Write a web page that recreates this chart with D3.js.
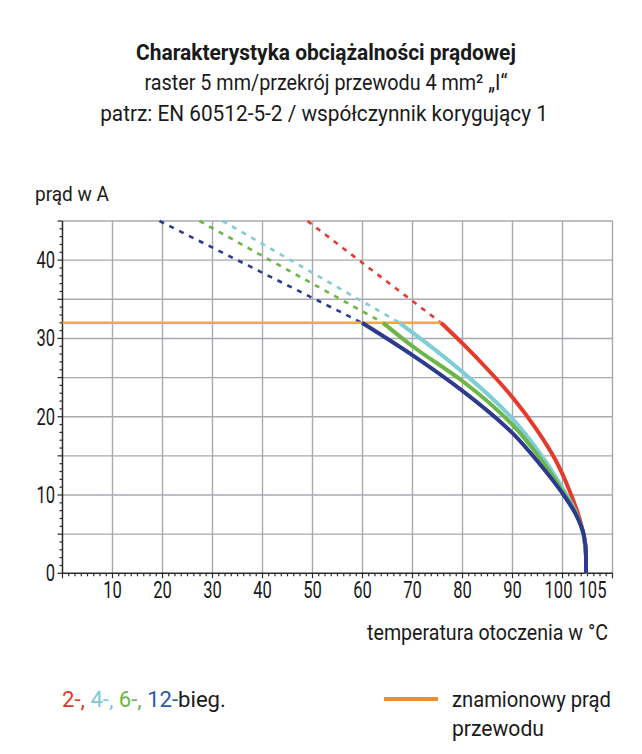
<!DOCTYPE html>
<html>
<head>
<meta charset="utf-8">
<script src="https://cdn.jsdelivr.net/npm/d3@7"></script>
<style>
  html, body { margin: 0; padding: 0; background: #fff; }
  svg { display: block; }
  text { font-family: Roboto, "Noto Sans", sans-serif; fill: #1a1a1a; }
</style>
</head>
<body>
<svg id="chart" width="642" height="754"></svg>
<script>
// ---------- data ----------
const titleLines = [
  "Charakterystyka obciążalności prądowej",
  "raster 5 mm/przekrój przewodu 4 mm² „I“",
  "patrz: EN 60512-5-2 / współczynnik korygujący 1"
];
const yAxisTitle = "prąd w A";
const xAxisTitle = "temperatura otoczenia w °C";
const xTickValues = [10, 20, 30, 40, 50, 60, 70, 80, 90, 100, 105];
const yTickValues = [0, 10, 20, 30, 40];
const ratedCurrent = 32;          // znamionowy prąd przewodu (A)
const ratedEndTemp = 75.7;        // where the rated line meets the 2-pole curve

const seriesNames = ["2-", "4-", "6-", "12-"];
// solid derating curves [temperature °C, current A]
const solid2  = [[75.7,32],[80.1,29.3],[85.1,26],[90.1,22.4],[94.9,18.3],[98.5,14.6],[101.5,10.4],[103.4,7],[104.4,4.2],[104.7,2],[104.7,0]];
const solid4  = [[67.4,32],[72.8,29.4],[80.2,25.6],[90.2,19.6],[95.4,15.4],[99.8,11.1],[102.6,7.9],[104.2,4.8],[104.7,2.2],[104.7,0]];
const solid6  = [[64.1,32],[70,29],[80.1,24.5],[90.1,18.9],[95.4,14.8],[99.9,10.6],[102.7,7.6],[104.3,4.8],[104.7,2.2],[104.7,0]];
const solid12 = [[59.9,32],[69.9,27.9],[80,23.3],[90,17.9],[95.4,14.0],[99.9,10.3],[102.7,7.5],[104.3,4.8],[104.7,2.2],[104.7,0]];
// dashed extensions above the rated current
const dash2  = [[49,45],[75.7,32]];
const dash4  = [[32,45],[67.4,32]];
const dash6  = [[27.4,45],[64.1,32]];
const dash12 = [[19.4,45],[59.9,32]];

const colors = ["#e53b2c", "#7fcdd5", "#6bb646", "#2d3a8e"];
const legendColors = ["#e0382c", "#7ccad4", "#6bb646", "#2a5ba8"];
const orange = "#f7a640";

// ---------- layout ----------
const svg = d3.select("#chart");
const x = d3.scaleLinear().domain([0, 110]).range([62.5, 612.5]);
const y = d3.scaleLinear().domain([0, 45]).range([573.3, 221]);

function fitText(sel, width) {
  sel.each(function() {
    const t = d3.select(this);
    const len = this.getComputedTextLength();
    const tr = t.attr("data-tr") || "";
    t.attr("transform", tr + ` scale(${width/len},1)`);
  });
}
function addText(str, px, py, size, anchor, width, weight) {
  const t = svg.append("text")
    .attr("font-size", size)
    .attr("text-anchor", anchor)
    .attr("font-weight", weight || 400)
    .attr("data-tr", `translate(${px},${py})`)
    .text(str);
  fitText(t, width);
  return t;
}

// titles
addText(titleLines[0], 326, 60, 22, "middle", 380, 700);
addText(titleLines[1], 326, 90, 22, "middle", 363, 400);
addText(titleLines[2], 324, 121, 22, "middle", 448, 400);

// grid
const grid = svg.append("g").attr("stroke", "#a9a9b0").attr("stroke-width", 1.4);
grid.selectAll("line.v").data(d3.range(10, 111, 10)).join("line")
  .attr("x1", d => x(d)).attr("x2", d => x(d)).attr("y1", y(0)).attr("y2", y(45));
grid.selectAll("line.h").data(d3.range(5, 46, 5)).join("line")
  .attr("x1", x(0)).attr("x2", x(110)).attr("y1", d => y(d)).attr("y2", d => y(d));

// axes
const axG = svg.append("g").attr("stroke", "#2a2a2a");
axG.append("line").attr("x1", x(0)).attr("x2", x(0)).attr("y1", y(0)).attr("y2", y(45)).attr("stroke-width", 1.5);
axG.append("line").attr("x1", x(0)).attr("x2", x(110)).attr("y1", y(0)).attr("y2", y(0)).attr("stroke-width", 1.5);
// y minor ticks every 1 A
axG.selectAll("line.ym").data(d3.range(0, 46, 1)).join("line")
  .attr("x1", d => x(0) - (d % 5 === 0 ? 5 : 3)).attr("x2", x(0))
  .attr("y1", d => y(d)).attr("y2", d => y(d)).attr("stroke-width", 1.2);
// x minor ticks
axG.selectAll("line.xm").data(d3.range(0, 110.01, 1.25)).join("line")
  .attr("x1", d => x(d)).attr("x2", d => x(d))
  .attr("y1", y(0)).attr("y2", d => y(0) + (d % 10 === 0 ? 5 : 3)).attr("stroke-width", 1.2);

// tick labels
const tickScale = 0.72;
const labelNudge = v => (v === 100 ? -4 : v === 105 ? 5 : 0);
svg.append("g").selectAll("text").data(xTickValues).join("text")
  .attr("font-size", 23).attr("text-anchor", "middle")
  .attr("transform", d => `translate(${x(d) + labelNudge(d)},598) scale(${tickScale},1)`)
  .text(d => d);
svg.append("g").selectAll("text").data(yTickValues).join("text")
  .attr("font-size", 23).attr("text-anchor", "end")
  .attr("transform", d => `translate(55,${y(d) + 8}) scale(${tickScale},1)`)
  .text(d => d);

// axis titles
addText(yAxisTitle, 35, 201, 21, "start", 74, 400);
addText(xAxisTitle, 608, 640, 22, "end", 241, 400);

// curves
const line = d3.line().x(d => x(d[0])).y(d => y(d[1]));
const curve = d3.line().x(d => x(d[0])).y(d => y(d[1])).curve(d3.curveMonotoneY);
const dashes = [dash2, dash4, dash6, dash12];
const solids = [solid2, solid4, solid6, solid12];

svg.append("g").selectAll("path").data(dashes).join("path")
  .attr("d", line).attr("fill", "none")
  .attr("stroke", (d, i) => colors[i]).attr("stroke-width", 2.6)
  .attr("stroke-dasharray", "5,6");

svg.append("line")
  .attr("x1", x(0)).attr("x2", x(ratedEndTemp))
  .attr("y1", y(ratedCurrent)).attr("y2", y(ratedCurrent))
  .attr("stroke", orange).attr("stroke-width", 2.6);

svg.append("g").selectAll("path").data(solids).join("path")
  .attr("d", curve).attr("fill", "none")
  .attr("stroke", (d, i) => colors[i]).attr("stroke-width", 4)
  .attr("stroke-linecap", "butt");

// legend
const lg = svg.append("text").attr("font-size", 22);
seriesNames.forEach((n, i) => {
  lg.append("tspan").attr("fill", legendColors[i]).text(n + (i < 3 ? ", " : ""));
});
lg.append("tspan").attr("fill", "#1a1a1a").text("bieg.");
{
  const len = lg.node().getComputedTextLength();
  lg.attr("transform", `translate(62,707) scale(${164/len},1)`);
}

svg.append("line").attr("x1", 384).attr("x2", 438).attr("y1", 699).attr("y2", 699)
  .attr("stroke", "#f28d2c").attr("stroke-width", 4);
addText("znamionowy prąd", 452, 707, 22, "start", 159, 400);
addText("przewodu", 452, 736, 22, "start", 92, 400);
</script>
</body>
</html>
